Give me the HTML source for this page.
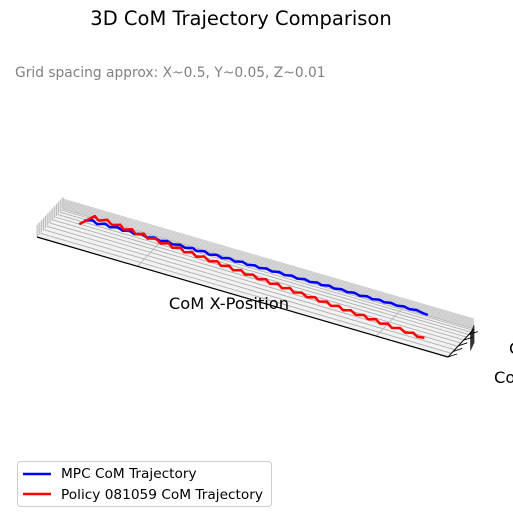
<!DOCTYPE html>
<html><head><meta charset="utf-8"><style>
body{margin:0;background:#fff;width:513px;height:524px;overflow:hidden;font-family:"DejaVu Sans","Liberation Sans",sans-serif;}
</style></head><body>
<svg id="chart" width="513" height="524" viewBox="0 0 513 524" xmlns="http://www.w3.org/2000/svg">
<text x="241" y="25" font-size="19.5" text-anchor="middle" fill="#000">3D CoM Trajectory Comparison</text>
<text x="15" y="77" font-size="13.8" fill="#808080">Grid spacing approx: X~0.5, Y~0.05, Z~0.01</text>
<g id="axes3d"></g>
<g id="series"></g>
<text x="229" y="309" font-size="16.3" text-anchor="middle" fill="#000">CoM X-Position</text>
<text x="494" y="383" font-size="16.3" fill="#000">CoM Y-Position</text>
<text x="509" y="354" font-size="16.3" fill="#000">CoM Z</text>
<g>
<rect x="17.5" y="461.5" width="254" height="45" rx="3" fill="#fff" stroke="#ccc"/>
<line x1="23" y1="474" x2="51" y2="474" stroke="#0000ff" stroke-width="2.5"/>
<text x="61" y="478" font-size="13.7">MPC CoM Trajectory</text>
<line x1="23" y1="494" x2="51" y2="494" stroke="#ff0000" stroke-width="2.5"/>
<text x="61" y="499" font-size="13.7">Policy 081059 CoM Trajectory</text>
</g>
</svg>
<script>
const blueX=[0.20,0.25,0.30,0.35,0.40,0.45,0.50,0.54,0.59,0.64,0.69,0.74,0.79,0.84,0.89,0.94,0.99,1.04,1.08,1.13,1.18,1.23,1.28,1.33,1.38,1.43,1.48,1.53,1.57,1.62,1.67,1.72,1.77,1.82,1.87,1.92,1.97,2.02,2.06,2.11,2.16,2.21,2.26,2.31,2.36,2.41,2.46,2.51,2.55,2.60,2.65,2.70,2.75,2.80,2.85,2.90];
const blueY=[1.02,1.13,1.04,1.14,1.06,1.14,1.07,1.15,1.07,1.15,1.08,1.16,1.09,1.17,1.10,1.17,1.11,1.18,1.12,1.19,1.12,1.19,1.13,1.20,1.14,1.21,1.15,1.21,1.16,1.22,1.17,1.23,1.17,1.23,1.18,1.24,1.19,1.25,1.20,1.26,1.21,1.26,1.22,1.27,1.22,1.28,1.23,1.28,1.24,1.29,1.25,1.30,1.26,1.30,1.26,1.24];
const redX=[0.19,0.24,0.29,0.34,0.40,0.45,0.50,0.55,0.60,0.65,0.70,0.75,0.81,0.86,0.91,0.96,1.01,1.06,1.11,1.16,1.22,1.27,1.32,1.37,1.42,1.47,1.52,1.57,1.63,1.68,1.73,1.78,1.83,1.88,1.93,1.98,2.04,2.09,2.14,2.19,2.24,2.29,2.34,2.39,2.45,2.50,2.55,2.60,2.65,2.70,2.75,2.80,2.86,2.91,2.96,3.01];
const redY=[0.85,1.30,1.18,1.30,1.16,1.26,1.12,1.22,1.08,1.18,1.05,1.14,1.01,1.10,0.98,1.07,0.94,1.03,0.91,1.00,0.88,0.97,0.84,0.93,0.81,0.90,0.78,0.86,0.75,0.83,0.71,0.80,0.68,0.77,0.65,0.73,0.62,0.70,0.59,0.67,0.56,0.64,0.53,0.61,0.50,0.58,0.47,0.55,0.44,0.52,0.41,0.49,0.38,0.46,0.36,0.40];
const xGridTicks=[0.8,2.7];

const NS='http://www.w3.org/2000/svg';
const X_MAX=3.27;
const F=[37,237],R=[411,120],B=[26,-28];
const WALL_H=10;
function projUV(u,v,h){return [F[0]+u*R[0]+v*B[0],F[1]+u*R[1]+v*B[1]-(h||0)];}
function proj(x,y,h){return projUV(x/X_MAX,0.034+0.79*y,h);}
function line(g,p1,p2,stroke,w,name){
  const l=document.createElementNS(NS,'line');
  l.setAttribute('x1',p1[0]);l.setAttribute('y1',p1[1]);l.setAttribute('x2',p2[0]);l.setAttribute('y2',p2[1]);
  l.setAttribute('stroke',stroke);l.setAttribute('stroke-width',w);
  
  
  g.appendChild(l);
}
function poly(g,pts,fill,name){
  const p=document.createElementNS(NS,'polygon');
  p.setAttribute('points',pts.map(q=>q.join(',')).join(' '));
  p.setAttribute('fill',fill);
  
  
  g.appendChild(p);
}
const ax=document.getElementById('axes3d');
poly(ax,[projUV(0,0),projUV(1,0),projUV(1,1),projUV(0,1)],'#f2f2f2','floor-pane');
poly(ax,[projUV(0,1),projUV(1,1),projUV(1,1,WALL_H),projUV(0,1,WALL_H)],'#e6e6e6','back-wall-pane');
poly(ax,[projUV(0,0),projUV(0,1),projUV(0,1,WALL_H+2),projUV(0,0,12)],'#e6e6e6','left-wall-pane');
for(let k=0;k<=12;k++){const v=k/12;line(ax,projUV(0,v),projUV(0,v,12+ (WALL_H-10)*v),'#b0b0b0',0.8,'wall-grid-line');}
for(let k=0;k<=10;k++){const v=1-Math.pow(1-k/10,1.35);line(ax,projUV(0,v),projUV(1,v),'#b0b0b0',0.9,'y-grid-line');}
for(let k=1;k<=8;k++){const h=k*WALL_H/8;line(ax,projUV(0,1,h),projUV(1,1,h),'#c4c4c4',0.7,'z-grid-line');}
xGridTicks.forEach(t=>{const u=t/X_MAX;line(ax,projUV(u,0),projUV(u,1),'#b8b8b8',0.9,'x-grid-line');});
for(let k=0;k<=9;k++){const p=projUV(1,1-k*0.03);line(ax,[p[0]+k*0.4,p[1]-4],[p[0]+k*0.4,p[1]+14],'#333',0.8,'right-wall-line');}
line(ax,projUV(0,0),projUV(1,0),'#000',1.2,'x-axis-line');
line(ax,projUV(1,0),projUV(1,1),'#000',1,'y-axis-line');
for(let k=0;k<=4;k++){const p=projUV(1,k*0.2);line(ax,p,[p[0]+9,p[1]-3],'#000',0.9,'y-tick');}
const sg=document.getElementById('series');
function series(xs,ys,color,name){
  const n=Math.min(xs.length,ys.length);
  const pts=[];for(let i=0;i<n;i++)pts.push(proj(xs[i],ys[i]).map(v=>v.toFixed(1)).join(','));
  const pl=document.createElementNS(NS,'polyline');
  pl.setAttribute('points',pts.join(' '));
  pl.setAttribute('fill','none');pl.setAttribute('stroke',color);pl.setAttribute('stroke-width','2.5');pl.setAttribute('stroke-linejoin','round');
  
  
  sg.appendChild(pl);
}
series(blueX,blueY,'#0000ff','mpc-trajectory-line');
series(redX,redY,'#ff0000','policy-trajectory-line');
</script>
</body></html>
